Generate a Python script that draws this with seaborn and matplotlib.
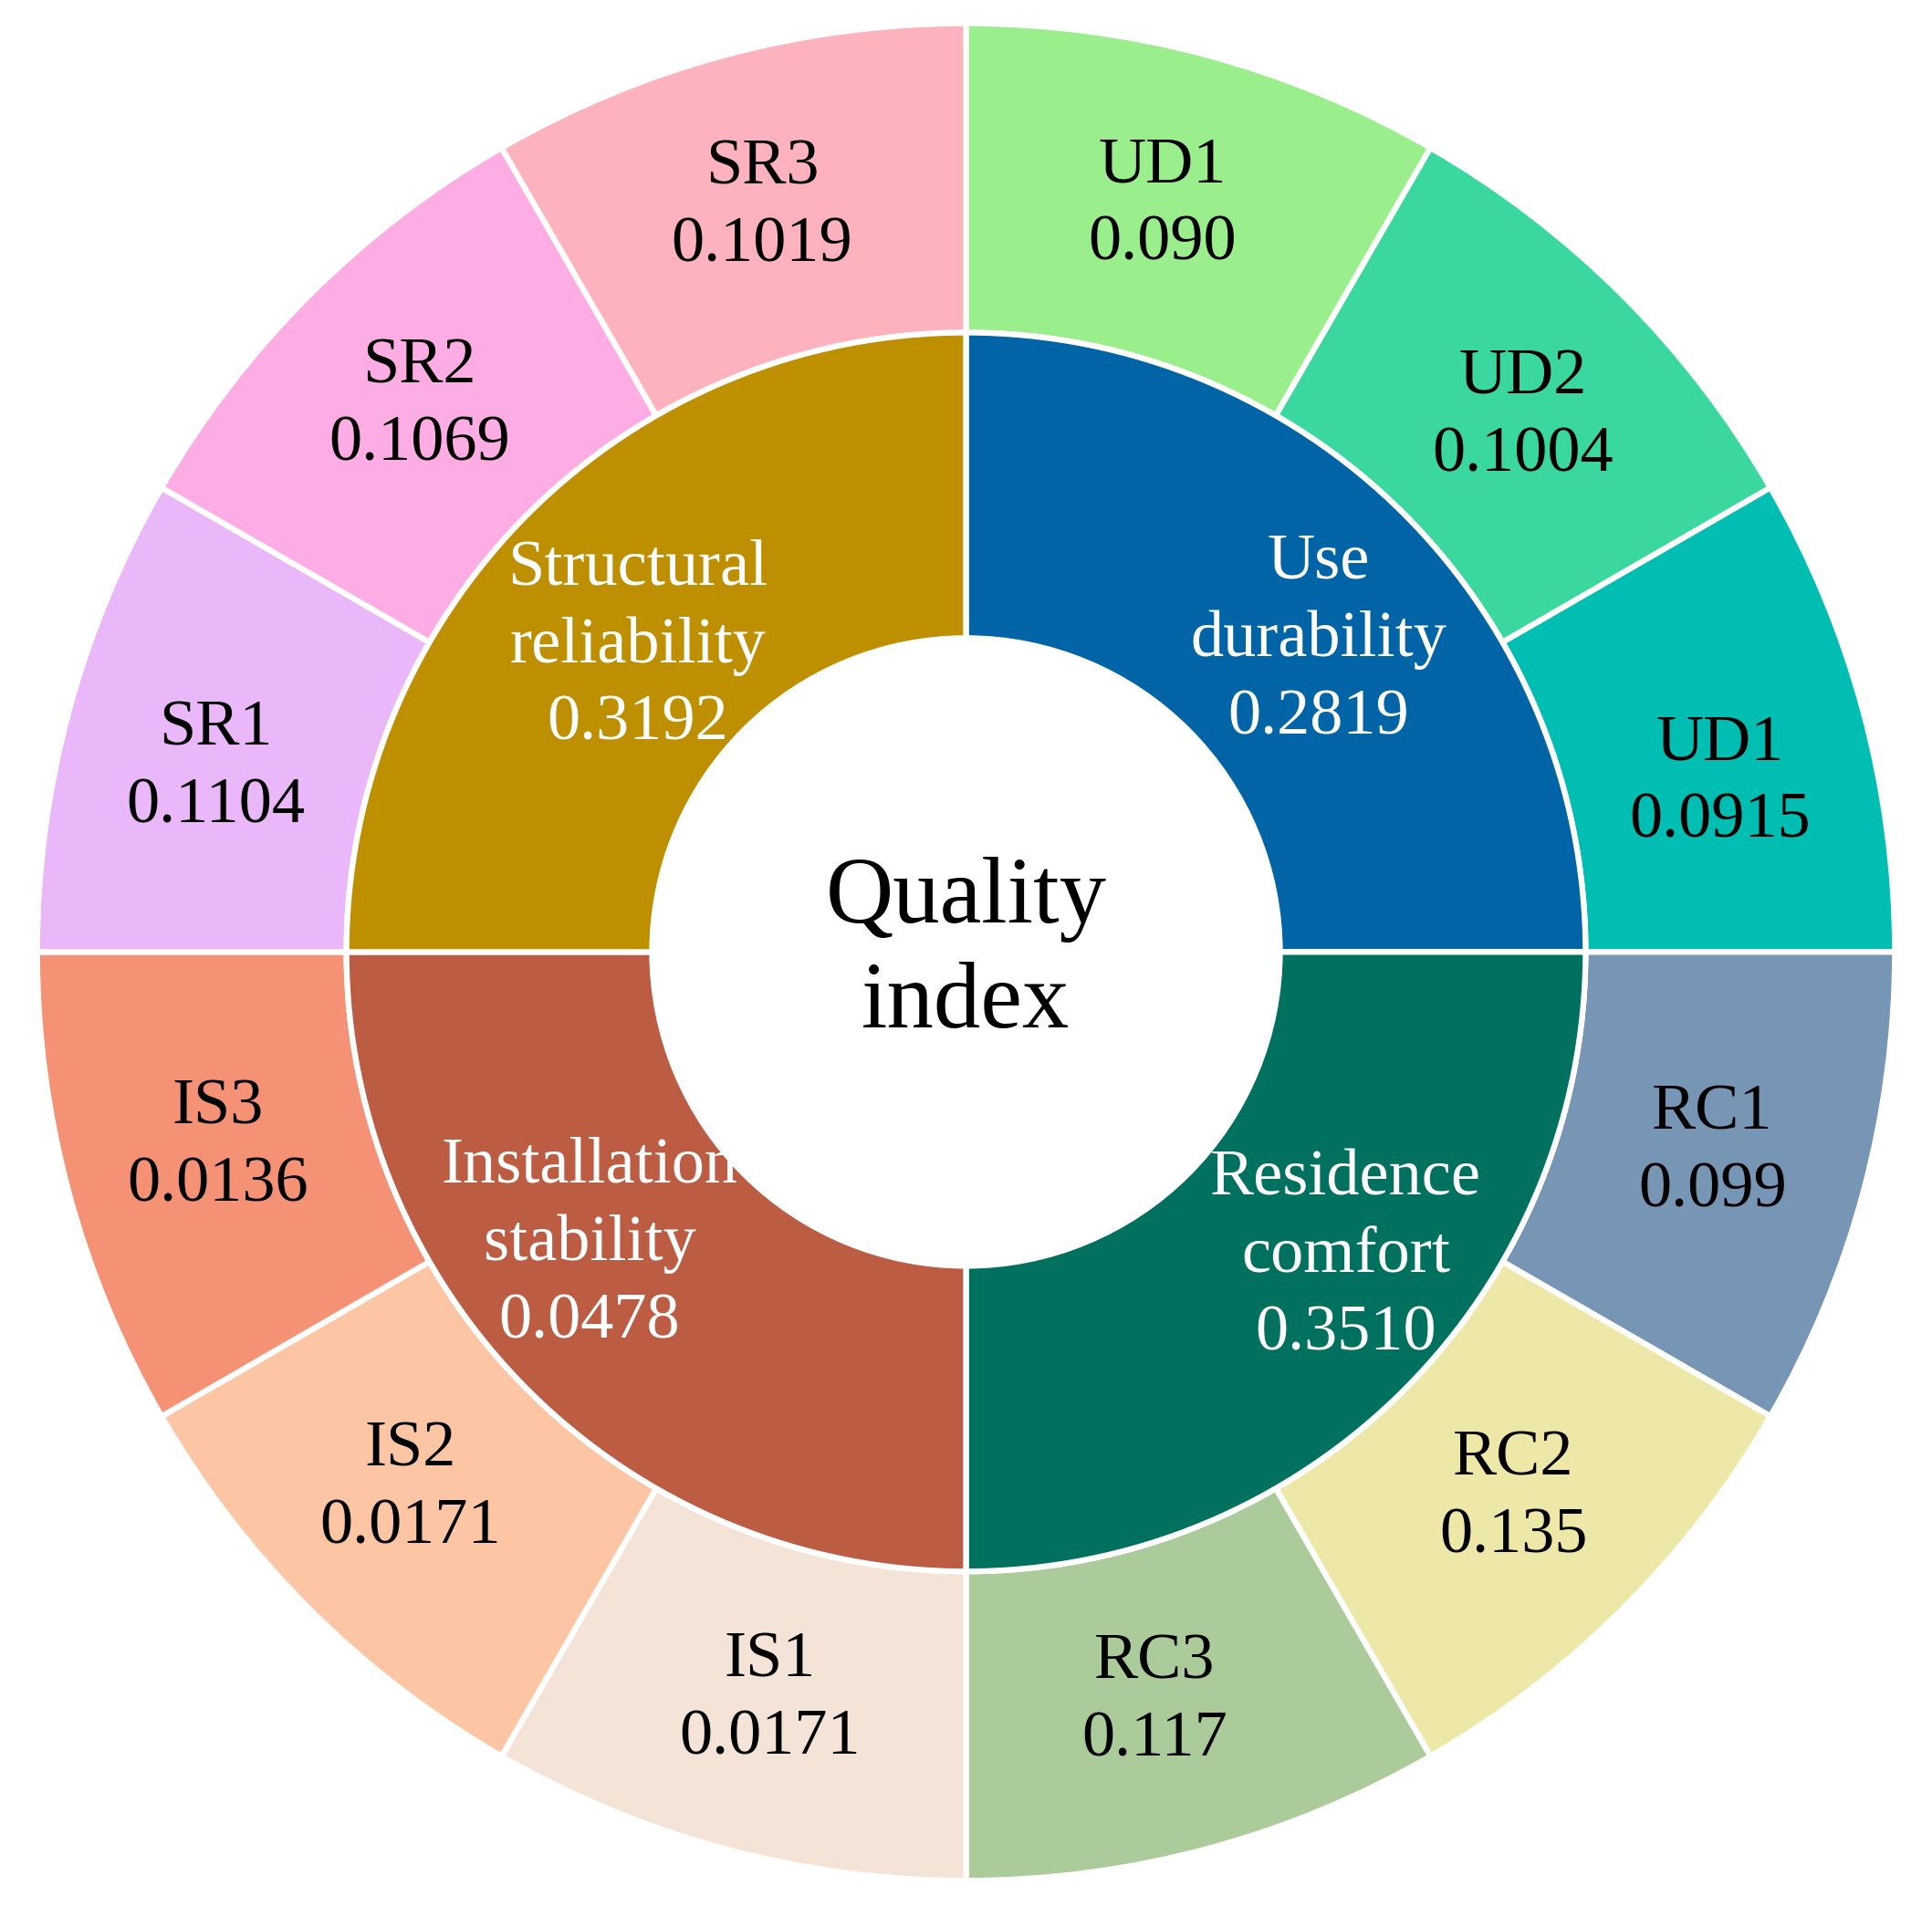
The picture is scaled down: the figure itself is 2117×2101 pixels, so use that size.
import numpy as np
import matplotlib.pyplot as plt
import seaborn as sns

# ------------------------------------------------------------------
# Dados
# ------------------------------------------------------------------
grupos = ['Use\ndurability', 'Residence\ncomfort', 'Installation\nstability', 'Structural\nreliability']
pesos_grupos = ['0.2819', '0.3510', '0.0478', '0.3192']
cores_grupos = ['#0064a6', '#00715e', '#bc5c42', '#be8f00']

indicadores = ['UD1', 'UD2', 'UD1', 'RC1', 'RC2', 'RC3',
               'IS1', 'IS2', 'IS3', 'SR1', 'SR2', 'SR3']
pesos_indicadores = ['0.090', '0.1004', '0.0915', '0.099', '0.135', '0.117',
                     '0.0171', '0.0171', '0.0136', '0.1104', '0.1069', '0.1019']
cores_indicadores = ['#9aee8c', '#3ad89e', '#00bfb2', '#7796b5', '#ede8a8', '#accb9a',
                     '#f4e3d7', '#fcc6a4', '#f59174', '#eab7f9', '#fdade3', '#fdb2be']

# every segment has the same angular size in the figure
tamanhos_grupos = [1] * len(grupos)
tamanhos_indicadores = [1] * len(indicadores)

# ajuste fino da posição dos rótulos (graus, raio)
desvio_ang_grupos = [-3.5, 6.3, -7.2, 2.0]
raio_grupos = [0.507, 0.524, 0.513, 0.483]
desvio_ang_ind = [0.3, -1.1, -2.3, 0.0, 0.1, -0.9, 0.3, -1.0, -0.4, 1.2, 0.0, 0.3]

# ------------------------------------------------------------------
# Figura
# ------------------------------------------------------------------
sns.set_theme(style='white')
plt.rcParams['font.family'] = ['Liberation Serif', 'DejaVu Serif']

fig = plt.figure(figsize=(21.17, 21.01), dpi=100)
ax = fig.add_axes([0, 0, 1, 1])

R_ext, R_meio, R_int = 1.0, 0.667, 0.338
borda = dict(edgecolor='white', linewidth=4.5)

ax.pie(tamanhos_indicadores, radius=R_ext, colors=cores_indicadores,
       startangle=90, counterclock=False,
       wedgeprops=dict(width=R_ext - R_meio, **borda))
ax.pie(tamanhos_grupos, radius=R_meio, colors=cores_grupos,
       startangle=90, counterclock=False,
       wedgeprops=dict(width=R_meio - R_int, **borda))

# rótulos do anel externo
n = len(indicadores)
for i, (nome, valor) in enumerate(zip(indicadores, pesos_indicadores)):
    ang = np.deg2rad(90 - (i + 0.5) * 360 / n + desvio_ang_ind[i])
    r = 0.832
    ax.text(r * np.cos(ang), r * np.sin(ang), f'{nome}\n{valor}',
            ha='center', va='center', fontsize=52, color='black', linespacing=1.4)

# rótulos do anel interno
m = len(grupos)
for i, (nome, valor) in enumerate(zip(grupos, pesos_grupos)):
    ang = np.deg2rad(90 - (i + 0.5) * 360 / m + desvio_ang_grupos[i])
    r = raio_grupos[i]
    ax.text(r * np.cos(ang), r * np.sin(ang), f'{nome}\n{valor}',
            ha='center', va='center', fontsize=52, color='white', linespacing=1.4)

ax.text(0, 0, 'Quality\nindex', ha='center', va='center', fontsize=74,
        color='black', linespacing=1.3)

ax.set_aspect('equal')
ax.set_xlim(-1.04, 1.04)
ax.set_ylim(-1.039, 1.025)
ax.axis('off')

plt.savefig('out.png', dpi=100, facecolor='white')
